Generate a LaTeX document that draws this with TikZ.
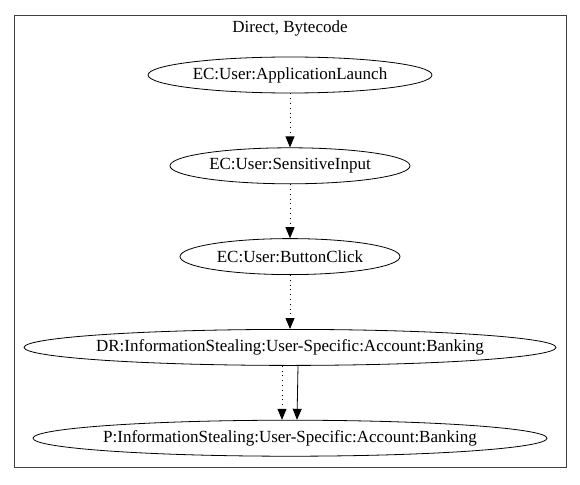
\documentclass[tikz,border=0pt]{standalone}
\usepackage{fontspec}
\setmainfont{Liberation Serif}
\usetikzlibrary{positioning,shapes.geometric,arrows.meta}
\tikzset{
  event/.style={draw, line width=0.8pt, ellipse, inner ysep=0pt, inner xsep=-60pt, minimum height=36pt, font=\fontsize{17}{19}\selectfont},
  flow/.style={-{Triangle[length=11pt,width=9pt]}, line width=0.8pt},
  dotflow/.style={flow, dash pattern=on 0.8pt off 4pt}
}

\begin{document}
\begin{tikzpicture}[x=1pt, y=-1pt, node distance=54pt]
\useasboundingbox (0,0) rectangle (580,484);
\draw[line width=0.9pt, black!75] (14,15) rectangle (566,467);
\node[font=\fontsize{17}{19}\selectfont] (title) at (290,28) {Direct, Bytecode};

\node[event, minimum width=284pt] (launch) at (290,75) {EC:User:ApplicationLaunch};
\node[event, minimum width=240pt] (input) [below=of launch] {EC:User:SensitiveInput};
\node[event, minimum width=220pt] (click) [below=of input] {EC:User:ButtonClick};
\node[event, minimum width=532pt] (dr) [below=of click] {DR:InformationStealing:User-Specific:Account:Banking};
\node[event, minimum width=514pt] (p) [below=of dr] {P:InformationStealing:User-Specific:Account:Banking};

\draw[dotflow] (launch) -- (input);
\draw[dotflow] (input) -- (click);
\draw[dotflow] (click) -- (dr);
\draw[dotflow] ([xshift=-8pt]dr.south) -- ([xshift=-8pt]p.north);
\draw[flow] ([xshift=8pt]dr.south) -- ([xshift=7pt]p.north);
\end{tikzpicture}
\end{document}
